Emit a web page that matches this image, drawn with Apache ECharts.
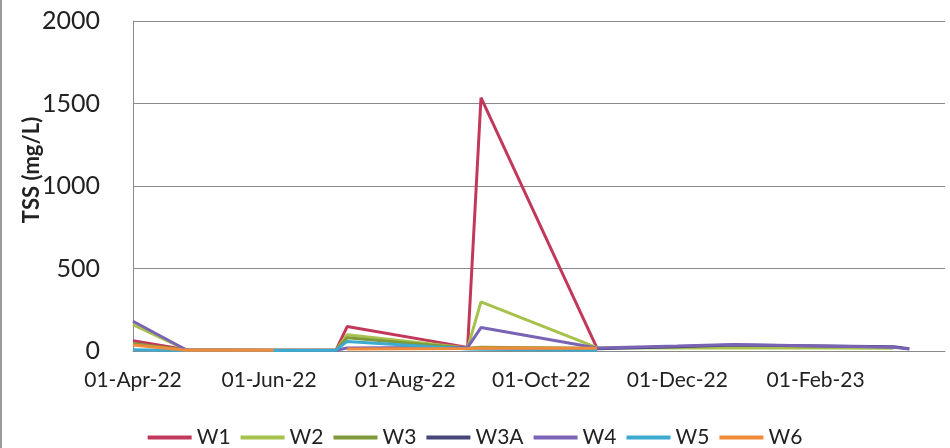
<!DOCTYPE html>
<html>
<head>
<meta charset="utf-8">
<script src="https://cdn.jsdelivr.net/npm/echarts@6/dist/echarts.min.js"></script>
<style>
  html, body { margin: 0; padding: 0; background: #fff; }
  #main { width: 950px; height: 448px; }
</style>
</head>
<body>
<div id="main"></div>
<script>
// sampling dates (x) and TSS values per site, mg/L
const sampleDates = ['2022-04-01', '2022-04-25', '2022-06-03', '2022-07-01', '2022-07-06', '2022-08-29',
  '2022-09-04', '2022-10-26', '2022-12-01', '2022-12-26', '2023-03-08', '2023-03-15']

const w1 = [62, 8, 5, 5, 148, 22, 1535, 18, null, null, null, null]
const w2 = [160, 6, 4, 5, 98, 18, 298, 20, 18, 20, 16, null]
const w3 = [45, 5, 4, 5, 80, 16, 22, 16, null, null, null, null]
const w3a = [null, null, null, null, null, null, null, 14, 26, 36, 26, 14]
const w4 = [180, 6, 4, 5, 18, 22, 142, 18, 30, 40, 22, 12]
const w5 = [8, 3, 3, 5, 58, 12, 10, 4, null, null, null, null]
const w6 = [36, 4, 4, null, 12, 15, 18, 16, null, null, null, null]

const seriesNames = ['W1', 'W2', 'W3', 'W3A', 'W4', 'W5', 'W6']
const seriesValues = [w1, w2, w3, w3a, w4, w5, w6]
const seriesColors = ['#C2385A', '#A6C24C', '#7F9A3A', '#47467A', '#7A63B5', '#3DAAD0', '#F08B3B']

// x tick labels
const tickDates = ['2022-04-01', '2022-06-01', '2022-08-01', '2022-10-01', '2022-12-01', '2023-02-01']
const xMin = '2022-04-01'
const xMax = '2023-03-31'

const monthNames = ['Jan', 'Feb', 'Mar', 'Apr', 'May', 'Jun', 'Jul', 'Aug', 'Sep', 'Oct', 'Nov', 'Dec']

function toTime(s) {
  const p = s.split('-')
  return new Date(+p[0], +p[1] - 1, +p[2]).getTime()
}

function fmtDate(t) {
  const d = new Date(t)
  const dd = ('0' + d.getDate()).slice(-2)
  const yy = ('' + d.getFullYear()).slice(-2)
  return dd + '-' + monthNames[d.getMonth()] + '-' + yy
}

const chart = echarts.init(document.getElementById('main'))

chart.setOption({
  animation: false,
  textStyle: { fontFamily: 'Lato' },
  grid: {
    left: 133,
    top: 21,
    right: 5,
    bottom: 97
  },
  graphic: [{
    type: 'rect',
    left: 0,
    top: 0,
    shape: { width: 2, height: 448 },
    style: { fill: '#9a9a9a' }
  }],
  legend: {
    top: 422,
    left: 'center',
    icon: 'rect',
    itemWidth: 44,
    itemHeight: 4,
    itemGap: 10,
    textStyle: { fontSize: 21, color: '#222', fontFamily: 'Lato' },
    data: seriesNames
  },
  xAxis: {
    type: 'value',
    min: toTime(xMin),
    max: toTime(xMax),
    axisLine: { lineStyle: { color: '#8a8a8a', width: 1 } },
    axisTick: { show: false },
    splitLine: { show: false },
    axisLabel: {
      customValues: tickDates.map(toTime),
      formatter: function(v) { return fmtDate(v) },
      fontSize: 21,
      color: '#222',
      margin: 19,
      hideOverlap: false
    }
  },
  yAxis: {
    type: 'value',
    min: 0,
    max: 2000,
    interval: 500,
    name: 'TSS (mg/L)',
    nameLocation: 'middle',
    nameRotate: 90,
    nameGap: 90,
    nameMoveOverlap: false,
    nameTextStyle: {
      fontSize: 22,
      fontWeight: 'bold',
      color: '#222',
      padding: [0, 0, 0, 32]
    },
    axisLine: { show: true, lineStyle: { color: '#8a8a8a', width: 1 } },
    axisTick: { show: false },
    splitLine: { lineStyle: { color: '#8a8a8a', width: 1 } },
    axisLabel: {
      fontSize: 25,
      color: '#222',
      margin: 33,
      formatter: function(v) { return String(v) }
    }
  },
  series: seriesNames.map(function(name, i) {
    return {
      name: name,
      type: 'line',
      showSymbol: false,
      symbol: 'none',
      connectNulls: false,
      color: seriesColors[i],
      lineStyle: { width: 3, color: seriesColors[i] },
      data: sampleDates.map(function(d, j) {
        return [toTime(d), seriesValues[i][j]]
      })
    }
  })
})
</script>
</body>
</html>
